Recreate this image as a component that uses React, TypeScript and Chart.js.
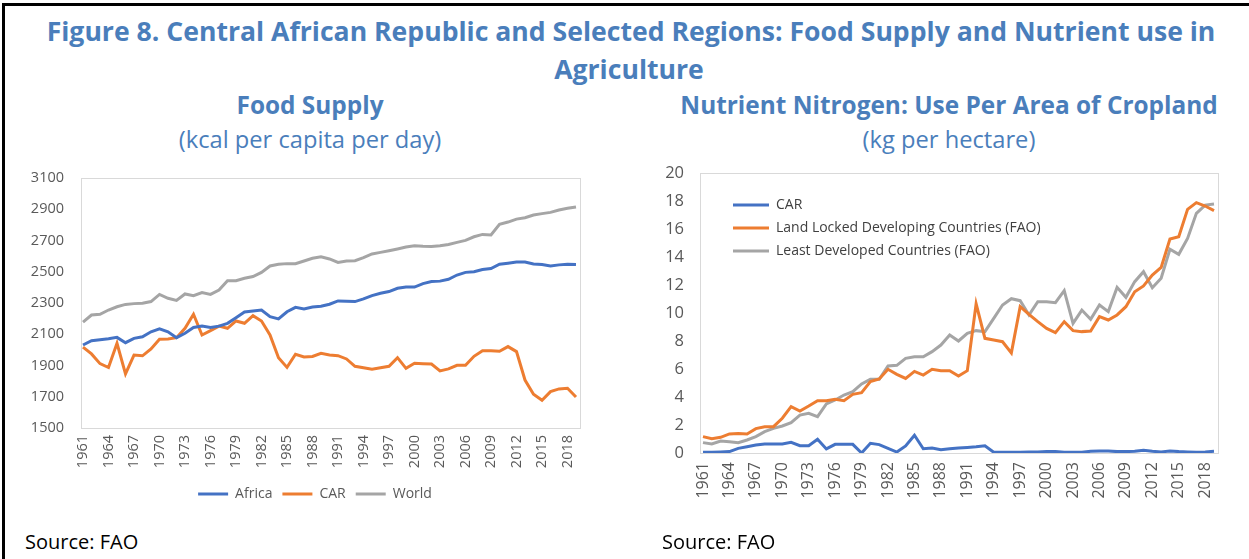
import React, { useEffect, useRef } from "react";
import { Chart, registerables } from "chart.js";

Chart.register(...registerables);

const years = [
  "1961","1962","1963","1964","1965","1966","1967","1968","1969","1970",
  "1971","1972","1973","1974","1975","1976","1977","1978","1979","1980",
  "1981","1982","1983","1984","1985","1986","1987","1988","1989","1990",
  "1991","1992","1993","1994","1995","1996","1997","1998","1999","2000",
  "2001","2002","2003","2004","2005","2006","2007","2008","2009","2010",
  "2011","2012","2013","2014","2015","2016","2017","2018","2019",
];

// Food supply (kcal per capita per day)
const africaKcal = [
  2031, 2059, 2065, 2071, 2080, 2046, 2074, 2084, 2116, 2134,
  2116, 2078, 2106, 2143, 2152, 2143, 2152, 2170, 2206, 2242,
  2249, 2255, 2212, 2198, 2244, 2272, 2262, 2274, 2279, 2292,
  2313, 2311, 2309, 2326, 2347, 2362, 2373, 2394, 2402, 2402,
  2424, 2437, 2440, 2452, 2479, 2496, 2500, 2514, 2521, 2548,
  2555, 2562, 2562, 2550, 2546, 2537, 2544, 2548, 2546,
];
const carKcal = [
  2018, 1974, 1912, 1887, 2042, 1846, 1967, 1962, 2006, 2068,
  2070, 2078, 2138, 2228, 2095, 2123, 2152, 2138, 2185, 2170,
  2219, 2185, 2095, 1950, 1888, 1972, 1955, 1958, 1978, 1967,
  1963, 1942, 1895, 1885, 1876, 1885, 1895, 1950, 1882, 1914,
  1911, 1909, 1865, 1878, 1901, 1901, 1959, 1995, 1995, 1991,
  2021, 1989, 1807, 1716, 1677, 1733, 1750, 1754, 1698,
];
const worldKcal = [
  2178, 2223, 2228, 2255, 2276, 2291, 2296, 2298, 2309, 2355,
  2330, 2317, 2358, 2347, 2367, 2355, 2383, 2443, 2443, 2458,
  2469, 2496, 2537, 2548, 2552, 2552, 2569, 2586, 2596, 2582,
  2560, 2569, 2571, 2590, 2614, 2624, 2635, 2646, 2658, 2667,
  2663, 2662, 2667, 2675, 2688, 2701, 2724, 2739, 2735, 2803,
  2818, 2837, 2846, 2863, 2872, 2880, 2895, 2906, 2915,
];

// Nitrogen use per area of cropland (kg per hectare)
const carNitrogen = [
  0.05, 0.05, 0.07, 0.1, 0.33, 0.45, 0.57, 0.64, 0.64, 0.64,
  0.76, 0.52, 0.52, 0.98, 0.29, 0.62, 0.62, 0.62, 0.0, 0.69,
  0.6, 0.33, 0.07, 0.5, 1.27, 0.3, 0.35, 0.23, 0.31, 0.36,
  0.4, 0.45, 0.52, 0.05, 0.05, 0.05, 0.05, 0.08, 0.08, 0.1,
  0.1, 0.05, 0.05, 0.05, 0.12, 0.14, 0.14, 0.1, 0.1, 0.12,
  0.2, 0.12, 0.08, 0.14, 0.1, 0.08, 0.06, 0.08, 0.12,
];
const lldcNitrogen = [
  1.17, 1.02, 1.12, 1.36, 1.4, 1.36, 1.74, 1.88, 1.88, 2.48,
  3.31, 3.0, 3.36, 3.74, 3.74, 3.83, 3.74, 4.19, 4.31, 5.1,
  5.29, 5.98, 5.62, 5.33, 5.83, 5.57, 5.98, 5.88, 5.88, 5.5,
  5.88, 10.66, 8.19, 8.07, 7.95, 7.15, 10.45, 9.9, 9.38, 8.9,
  8.6, 9.38, 8.74, 8.67, 8.71, 9.74, 9.5, 9.86, 10.45, 11.52,
  11.93, 12.71, 13.26, 15.29, 15.45, 17.4, 17.88, 17.64, 17.31,
];
const ldcNitrogen = [
  0.74, 0.64, 0.86, 0.81, 0.74, 0.93, 1.17, 1.52, 1.76, 1.93,
  2.17, 2.71, 2.83, 2.6, 3.5, 3.79, 4.14, 4.38, 4.93, 5.26,
  5.26, 6.21, 6.26, 6.76, 6.88, 6.88, 7.24, 7.71, 8.43, 8.0,
  8.55, 8.74, 8.67, 9.62, 10.57, 11.02, 10.88, 9.86, 10.81, 10.81,
  10.74, 11.6, 9.26, 10.21, 9.55, 10.57, 10.1, 11.83, 11.12, 12.24,
  12.95, 11.81, 12.48, 14.55, 14.19, 15.33, 17.12, 17.71, 17.79,
];

const BLUE = "#4472C4";
const ORANGE = "#ED7D31";
const GRAY = "#A5A5A5";
const TITLE_BLUE = "#4A7EBB";
const TICK = "#595959";
const FONT = "'Open Sans', sans-serif";

const plotBorder = {
  id: "plotBorder",
  beforeDatasetsDraw(chart: any, _args: any, opts: any) {
    const { ctx, chartArea: a } = chart;
    ctx.save();
    ctx.strokeStyle = opts.color || "#D9D9D9";
    ctx.lineWidth = 1;
    const l = Math.round(a.left - (opts.padL || 0)) + 0.5;
    const r = Math.round(a.right + (opts.padR || 0)) + 0.5;
    const t = Math.round(a.top) + 0.5;
    const b = Math.round(a.bottom) + 0.5;
    ctx.strokeRect(l, t, r - l, b - t);
    ctx.restore();
  },
};

const legendShift = {
  id: "legendShift",
  afterLayout(chart: any, _args: any, opts: any) {
    const lg = chart.legend;
    if (lg && opts) {
      const dx = opts.dx || 0;
      const dy = opts.dy || 0;
      lg.left += dx;
      lg.right += dx;
      lg.top += dy;
      lg.bottom += dy;
    }
  },
};

const lineDs = (label: string, data: number[], color: string) => ({
  label,
  data,
  borderColor: color,
  backgroundColor: color,
  borderWidth: 3,
  pointRadius: 0,
  pointHoverRadius: 0,
  tension: 0,
  fill: false,
});

const xTickCb = (_v: any, i: number) => (i % 3 === 0 ? years[i] : null);
const plainNum = (v: any) => String(v);

const yGrid = {
  display: true,
  drawOnChartArea: false,
  drawTicks: true,
  tickLength: 16,
  color: "rgba(0,0,0,0)",
};

function FoodChart() {
  const ref = useRef<HTMLCanvasElement>(null);
  useEffect(() => {
    const chart = new Chart(ref.current!, {
      type: "line",
      data: {
        labels: years,
        datasets: [
          lineDs("Africa", africaKcal, BLUE),
          lineDs("CAR", carKcal, ORANGE),
          lineDs("World", worldKcal, GRAY),
        ],
      },
      plugins: [plotBorder, legendShift],
      options: {
        animation: false,
        responsive: false,
        devicePixelRatio: 1,
        layout: { padding: { top: 12, left: 0, right: 44, bottom: 3 } },
        scales: {
          x: {
            type: "category",
            offset: false,
            grid: { display: false, drawTicks: false },
            border: { display: false },
            ticks: {
              autoSkip: false,
              minRotation: 90,
              maxRotation: 90,
              padding: 7,
              color: TICK,
              font: { family: FONT, size: 14.5 },
              callback: xTickCb,
            },
            afterFit: (s: any) => {
              s.height = 49;
            },
          },
          y: {
            min: 1500,
            max: 3100,
            grid: yGrid,
            border: { display: false },
            ticks: {
              stepSize: 200,
              padding: 3,
              color: TICK,
              font: { family: FONT, size: 14.5 },
              callback: plainNum,
            },
            afterFit: (s: any) => {
              s.width = 83;
            },
          },
        },
        plugins: {
          legend: {
            position: "bottom",
            labels: {
              usePointStyle: true,
              pointStyle: "line",
              pointStyleWidth: 30,
              boxHeight: 14,
              padding: 10,
              color: TICK,
              font: { family: FONT, size: 14 },
            },
          },
          tooltip: { enabled: false },
          plotBorder: { color: "#D9D9D9", padL: 2, padR: 4 },
          legendShift: { dx: 27, dy: 0 },
        } as any,
      },
    });
    return () => chart.destroy();
  }, []);
  return (
    <canvas
      ref={ref}
      width={620}
      height={348}
      style={{ position: "absolute", left: 0, top: 166, width: 620, height: 348 }}
    />
  );
}

function NitrogenChart() {
  const ref = useRef<HTMLCanvasElement>(null);
  useEffect(() => {
    const chart = new Chart(ref.current!, {
      type: "line",
      data: {
        labels: years,
        datasets: [
          lineDs("CAR", carNitrogen, BLUE),
          lineDs("Land Locked Developing Countries (FAO)", lldcNitrogen, ORANGE),
          lineDs("Least Developed Countries (FAO)", ldcNitrogen, GRAY),
        ],
      },
      plugins: [plotBorder, legendShift],
      options: {
        animation: false,
        responsive: false,
        devicePixelRatio: 1,
        layout: { padding: { top: 13, left: 0, right: 35, bottom: 10 } },
        scales: {
          x: {
            type: "category",
            offset: false,
            grid: { display: false, drawTicks: false },
            border: { display: false },
            ticks: {
              autoSkip: false,
              minRotation: 90,
              maxRotation: 90,
              padding: 9,
              color: TICK,
              font: { family: FONT, size: 16 },
              callback: xTickCb,
            },
            afterFit: (s: any) => {
              s.height = 72;
            },
          },
          y: {
            min: 0,
            max: 20,
            grid: yGrid,
            border: { display: false },
            ticks: {
              stepSize: 2,
              padding: 3,
              color: TICK,
              font: { family: FONT, size: 16.5 },
              callback: plainNum,
            },
            afterFit: (s: any) => {
              s.width = 78;
            },
          },
        },
        plugins: {
          legend: {
            position: "chartArea",
            align: "start",
            labels: {
              usePointStyle: true,
              pointStyle: "line",
              pointStyleWidth: 36,
              boxHeight: 14,
              padding: 9,
              color: "#404040",
              font: { family: FONT, size: 14 },
            },
          },
          tooltip: { enabled: false },
          plotBorder: { color: "#D9D9D9", padL: 3, padR: 4 },
          legendShift: { dx: 21, dy: 29 },
        } as any,
      },
    });
    return () => chart.destroy();
  }, []);
  return (
    <canvas
      ref={ref}
      width={624}
      height={375}
      style={{ position: "absolute", left: 625, top: 160, width: 624, height: 375 }}
    />
  );
}

const centered = (x: number, y: number): React.CSSProperties => ({
  position: "absolute",
  left: x,
  top: y,
  transform: "translate(-50%, -50%)",
  whiteSpace: "nowrap",
  color: TITLE_BLUE,
  lineHeight: 1,
});

export default function App() {
  return (
    <div
      style={{
        position: "fixed",
        left: 0,
        top: 0,
        width: 1249,
        height: 559,
        background: "#fff",
        overflow: "hidden",
        fontFamily: FONT,
      }}
    >
      <div
        style={{
          position: "absolute",
          left: 2,
          top: 3,
          width: 1400,
          height: 700,
          borderTop: "3px solid #000",
          borderLeft: "3px solid #000",
        }}
      />
      <div style={{ ...centered(631, 31), fontSize: 26.6, fontWeight: 700 }}>
        Figure 8. Central African Republic and Selected Regions: Food Supply and Nutrient use in
      </div>
      <div style={{ ...centered(629, 69), fontSize: 26.6, fontWeight: 700 }}>Agriculture</div>
      <div style={{ ...centered(310, 105), fontSize: 24.4, fontWeight: 700 }}>Food Supply</div>
      <div style={{ ...centered(310, 140), fontSize: 23.7 }}>(kcal per capita per day)</div>
      <div style={{ ...centered(949, 105), fontSize: 24.4, fontWeight: 700 }}>
        Nutrient Nitrogen: Use Per Area of Cropland
      </div>
      <div style={{ ...centered(949, 140), fontSize: 23.7 }}>(kg per hectare)</div>
      <FoodChart />
      <NitrogenChart />
      <div style={{ position: "absolute", left: 25, top: 528, fontSize: 20, color: "#000", whiteSpace: "nowrap" }}>
        Source: FAO
      </div>
      <div style={{ position: "absolute", left: 662, top: 528, fontSize: 20, color: "#000", whiteSpace: "nowrap" }}>
        Source: FAO
      </div>
    </div>
  );
}
